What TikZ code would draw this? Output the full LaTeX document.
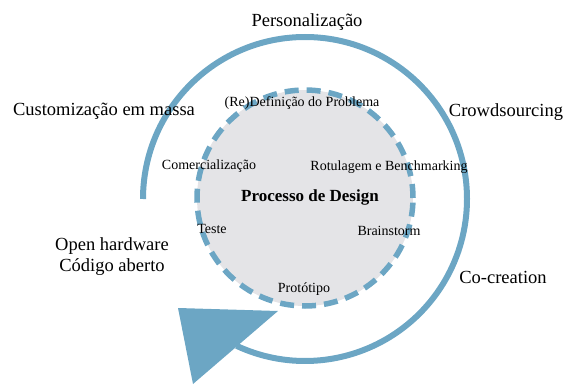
\documentclass[tikz,border=0pt]{standalone}
\usepackage{fontspec}
\setmainfont{Liberation Serif}
\definecolor{arcblue}{RGB}{108,166,196}
\definecolor{innergray}{RGB}{228,228,231}
\begin{document}
\begin{tikzpicture}[x=1pt,y=-1pt,
  outer/.style={font=\fontsize{18.5}{19}\selectfont, inner sep=0pt},
  innerlbl/.style={font=\fontsize{14}{16}\selectfont, inner sep=0pt},
]
\useasboundingbox (0,0) rectangle (570,385);
% inner circle
\node[circle, minimum size=216pt, inner sep=0pt, fill=innergray, draw=arcblue, line width=5.5pt, dash pattern=on 14pt off 8pt] (core) at (305,198) {};
% outer arc
\coordinate (arcstart) at (143,199);
\draw[arcblue, line width=6pt] (arcstart) arc[start angle=180, end angle=-115, radius=162pt] coordinate (arcend);
% arrow head
\coordinate (t1) at (178,308);
\coordinate (t2) at (278,311);
\coordinate (t3) at (193,384);
\fill[arcblue] (t1) -- (t2) -- (t3) -- cycle;
% outer labels
\node[outer] (pers) at (307,22) {Personalização};
\node[outer] (cust) at (104,111) {Customização em massa};
\node[outer] (crowd) at (506,112) {Crowdsourcing};
\node[outer] (cocr) at (503,277) {Co-creation};
\node[outer] (open1) at (112,246) {Open hardware};
\node[outer] (open2) at (112,267) {Código aberto};
% inner labels
\node[innerlbl] (redef) at (302,103) {(Re)Definição do Problema};
\node[innerlbl] (comer) at (209,166) {Comercialização};
\node[innerlbl] (rotul) at (389,167) {Rotulagem e Benchmarking};
\node[innerlbl, font=\fontsize{17}{19}\selectfont\bfseries] (proc) at (310,197) {Processo de Design};
\node[innerlbl] (teste) at (212,229) {Teste};
\node[innerlbl] (brain) at (389,231) {Brainstorm};
\node[innerlbl] (prot) at (304,289) {Protótipo};
\end{tikzpicture}
\end{document}
